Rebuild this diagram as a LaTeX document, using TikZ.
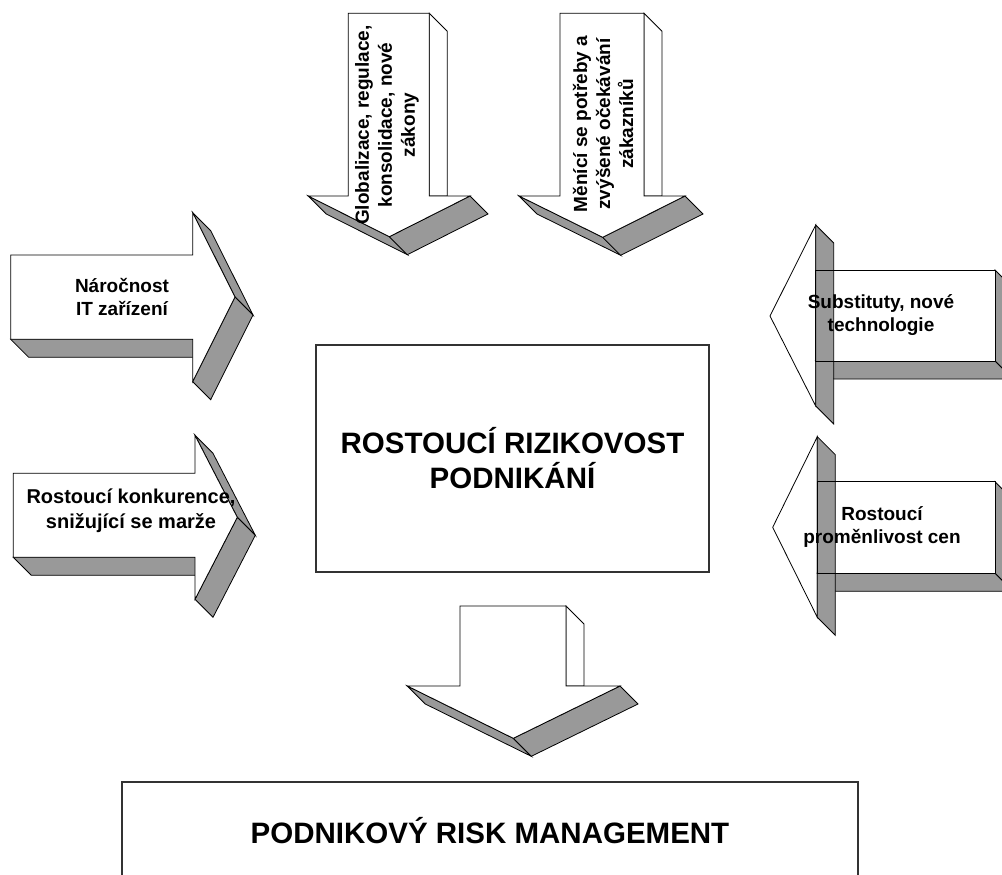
\documentclass[tikz,border=0pt]{standalone}
\usepackage{fontspec}
\setmainfont{Liberation Sans}
\usetikzlibrary{positioning}

\begin{document}
\begin{tikzpicture}[x=1pt,y=-1pt,
	front/.style={fill=white,draw=black,line width=0.8pt},
	side/.style={fill=black!40,draw=black,line width=0.8pt},
	boxline/.style={draw=black!80,line width=1.2pt},
	lbl/.style={font=\bfseries\fontsize{19}{23}\selectfont,align=center},
	big/.style={font=\bfseries\fontsize{29.5}{35}\selectfont,align=center}]
	\useasboundingbox (0,0) rectangle (1002,875);
	\clip (0,0) rectangle (1002,875);
	
	% left arrows
	\draw[side] (10.7,339.3) -- (192.7,339.3) -- (210.7,357.3) -- (28.7,357.3) -- cycle;
	\draw[side] (192.7,212.7) -- (210.7,230.7) -- (253,315) -- (235,297) -- cycle;
	\draw[side] (235,297) -- (253,315) -- (210.7,399.7) -- (192.7,381.7) -- cycle;
	\draw[front] (10.7,255) -- (192.7,255) -- (192.7,212.7) -- (235,297) -- (192.7,381.7) -- (192.7,339.3) -- (10.7,339.3) -- cycle;
	\node[lbl] (naro) at (122,297) {Náročnost\\IT zařízení};
	
	\draw[side] (13.3,557.3) -- (195,557.3) -- (213,575.3) -- (31.3,575.3) -- cycle;
	\draw[side] (195,435.3) -- (213,453.3) -- (255.3,535.3) -- (237.3,517.3) -- cycle;
	\draw[side] (237.3,517.3) -- (255.3,535.3) -- (213,617.3) -- (195,599.3) -- cycle;
	\draw[front] (13.3,473.3) -- (195,473.3) -- (195,435.3) -- (237.3,517.3) -- (195,599.3) -- (195,557.3) -- (13.3,557.3) -- cycle;
	\node[lbl,font=\bfseries\fontsize{20}{25}\selectfont] (konk) at (131,511) {Rostoucí konkurence,\\snižující se marže};
	
	% top arrows
	\draw[front] (429.3,13.3) -- (447.3,31.3) -- (447.3,196) -- (429.3,196) -- cycle;
	\draw[side] (308.3,196) -- (389.3,236.7) -- (407.3,254.7) -- (326.3,214) -- cycle;
	\draw[side] (389.3,236.7) -- (470,196) -- (488,214) -- (407.3,254.7) -- cycle;
	\draw[front] (348.3,13.3) -- (429.3,13.3) -- (429.3,196) -- (470,196) -- (389.3,236.7) -- (308.3,196) -- (348.3,196) -- cycle;
	\node[lbl,rotate=90] (glob) at (387,125) {Globalizace, regulace,\\konsolidace, nové\\zákony};
	
	\draw[front] (644,13.3) -- (662,31.3) -- (662,196) -- (644,196) -- cycle;
	\draw[side] (519,196) -- (602.7,237.3) -- (620.7,255.3) -- (537,214) -- cycle;
	\draw[side] (602.7,237.3) -- (685,196) -- (703,214) -- (620.7,255.3) -- cycle;
	\draw[front] (560,13.3) -- (644,13.3) -- (644,196) -- (685,196) -- (602.7,237.3) -- (519,196) -- (560,196) -- cycle;
	\node[lbl,rotate=90] (mene) at (603,124) {Měnící se potřeby a\\zvýšené očekávání\\zákazníků};
	
	% right arrows
	\draw[front] (815.7,225) -- (770,316) -- (815.7,406) -- cycle;
	\draw[side] (995,270) -- (1013,288) -- (1013,379) -- (995,361) -- cycle;
	\draw[side] (815.7,361) -- (995,361) -- (1013,379) -- (833.7,379) -- cycle;
	\fill[white] (815.7,270) rectangle (995,361);
	\draw[side] (815.7,225) -- (833.7,243) -- (833.7,424) -- (815.7,406) -- cycle;
	\draw[line width=0.8pt] (815.7,270) rectangle (995,361);
	\node[lbl] (subs) at (881,315) {Substituty, nové\\technologie};
	
	\draw[front] (817.3,436.7) -- (772.7,527.3) -- (817.3,617.3) -- cycle;
	\draw[side] (995,481.7) -- (1013,499.7) -- (1013,591.3) -- (995,573.3) -- cycle;
	\draw[side] (817.3,573.3) -- (995,573.3) -- (1013,591.3) -- (835.3,591.3) -- cycle;
	\fill[white] (817.3,481.7) rectangle (995,573.3);
	\draw[side] (817.3,436.7) -- (835.3,454.7) -- (835.3,635.3) -- (817.3,617.3) -- cycle;
	\draw[line width=0.8pt] (817.3,481.7) rectangle (995,573.3);
	\node[lbl] (cen) at (882,527) {Rostoucí\\proměnlivost cen};
	
	% middle box and bottom arrow
	\node[boxline,big,minimum width=393,minimum height=227,inner sep=0pt] (riz) at (512.5,458.5) {ROSTOUCÍ RIZIKOVOST\\PODNIKÁNÍ};
	
	\draw[front] (566,606) -- (584,624) -- (584,686) -- (566,686) -- cycle;
	\draw[side] (407.3,686) -- (513.3,738.3) -- (531.3,756.3) -- (425.3,704) -- cycle;
	\draw[side] (513.3,738.3) -- (620,686) -- (638,704) -- (531.3,756.3) -- cycle;
	\draw[front] (460,606) -- (566,606) -- (566,686) -- (620,686) -- (513.3,738.3) -- (407.3,686) -- (460,686) -- cycle;
	
	\draw[boxline] (122,782) rectangle (858,900);
	\node[big] (prm) at (490,831) {PODNIKOVÝ RISK MANAGEMENT};
\end{tikzpicture}
\end{document}
